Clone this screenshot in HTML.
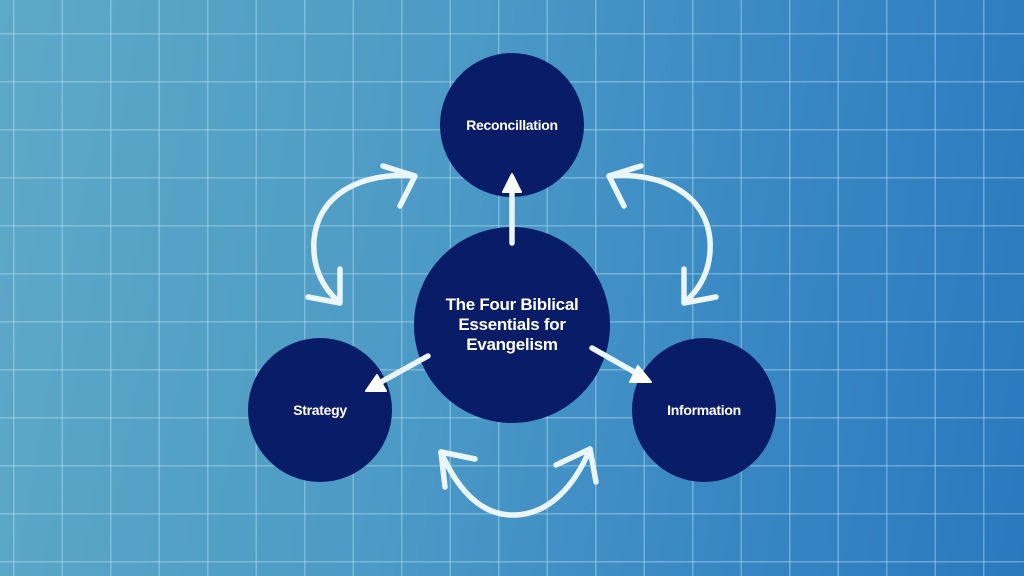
<!DOCTYPE html>
<html><head><style>
html,body{margin:0;padding:0}
body{width:1024px;height:576px;overflow:hidden;position:relative;
background:linear-gradient(100deg,#5ea9c7 0%,#4d9bc6 40%,#3a89c4 70%,#2a79bf 100%);
font-family:"Liberation Sans",sans-serif}
.grid{position:absolute;inset:0;
background-image:linear-gradient(to right,rgba(190,230,240,.4) 1.5px,transparent 1.5px),
linear-gradient(to bottom,rgba(190,230,240,.4) 1.5px,transparent 1.5px);
background-size:48.5px 48px;background-position:13px 33px}
.c{position:absolute;border-radius:50%;background:#091c68;color:#fff;font-weight:bold;
display:flex;align-items:center;justify-content:center;text-align:center;letter-spacing:-0.3px}
</style></head><body>
<div class="grid"></div>
<div class="c" style="left:440px;top:53px;width:144px;height:144px;font-size:14px">Reconcillation</div>
<div class="c" style="left:414px;top:227px;width:196px;height:196px;font-size:17px;line-height:20px">The Four Biblical<br>Essentials for<br>Evangelism</div>
<div class="c" style="left:248px;top:338px;width:144px;height:144px;font-size:14px">Strategy</div>
<div class="c" style="left:632px;top:338px;width:144px;height:144px;font-size:14px">Information</div>
<svg width="1024" height="576" style="position:absolute;left:0;top:0" fill="none" stroke="#eaf6fb" stroke-width="5.5" stroke-linecap="round" stroke-linejoin="round">
<line x1="512" y1="243" x2="512" y2="178"/>
<polygon points="512,174 503,192 521,192" fill="#fff" stroke="#fff" stroke-width="2"/>
<line x1="428" y1="356" x2="372" y2="387"/>
<polygon points="366,391 386,391 377,375" fill="#fff" stroke="#fff" stroke-width="2"/>
<line x1="592" y1="348" x2="645" y2="378"/>
<polygon points="651,382 638,366 630,382" fill="#fff" stroke="#fff" stroke-width="2"/>
<path d="M414,176 C360,172 318,195 314,240 C312,270 325,290 339,302"/>
<polyline points="383,166 415,176 400,206"/>
<polyline points="340,269 340,303 308,297"/>
<path d="M610,176 C664,172 706,195 710,240 C712,270 699,290 685,302"/>
<polyline points="641,166 609,176 624,206"/>
<polyline points="684,269 684,303 716,297"/>
<path d="M441,452 C460,495 485,516 515,515 C550,514 575,485 590,449"/>
<polyline points="475,459 441,452 445,487"/>
<polyline points="556,465 590,449 596,482"/>
</svg>
</body></html>
